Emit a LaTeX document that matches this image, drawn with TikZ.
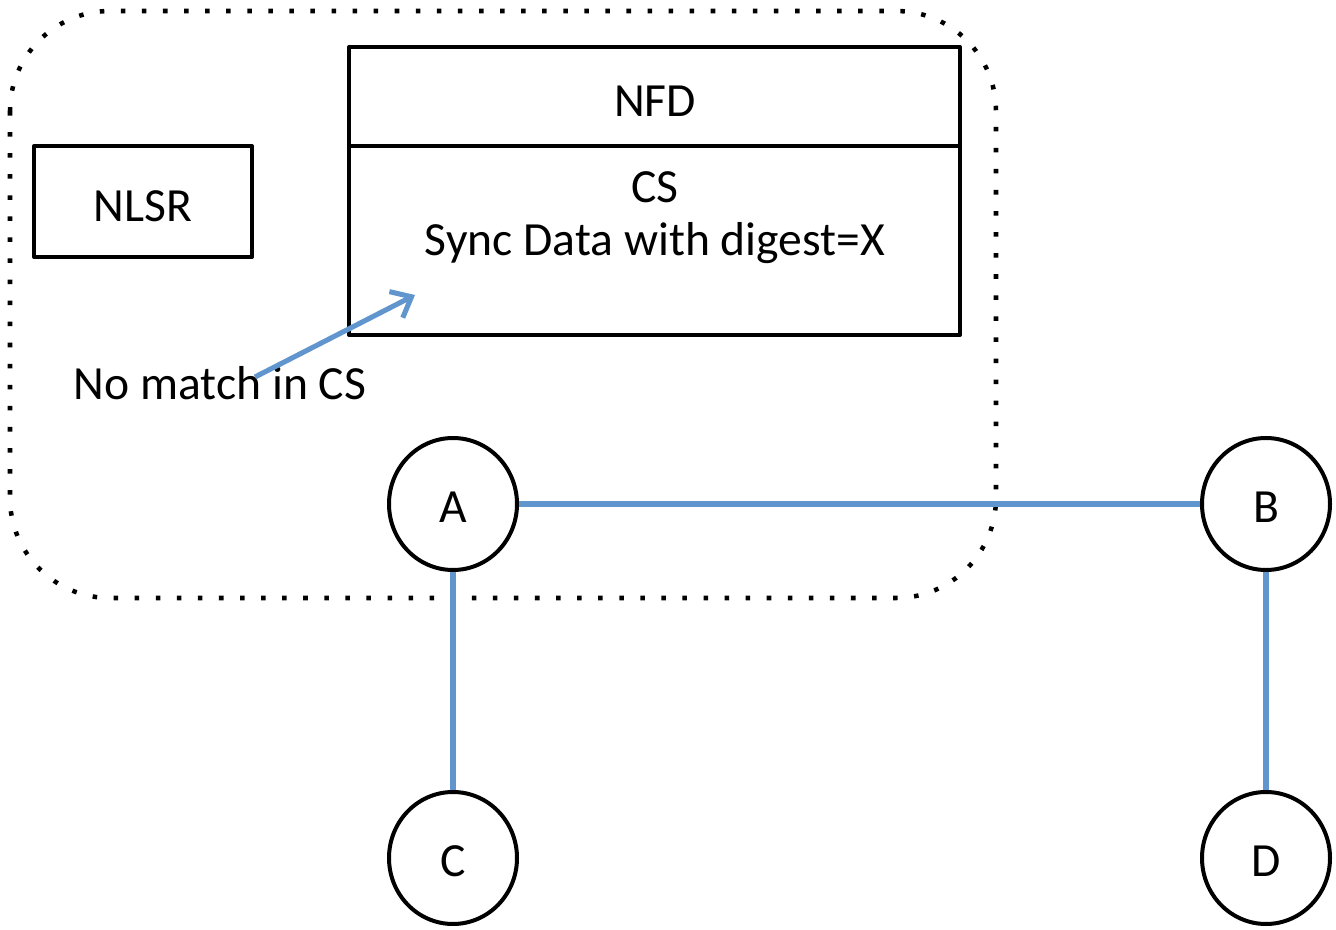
\documentclass[tikz,border=0pt]{standalone}
\usepackage{fontspec}
\setmainfont{Carlito}
\usetikzlibrary{arrows.meta,shapes.geometric}
\definecolor{linkblue}{RGB}{96,150,205}
\begin{document}
\begin{tikzpicture}[x=0.75pt,y=-0.75pt,
  every node/.style={font=\fontsize{35.7}{43}\selectfont},
  box/.style={draw=black,line width=3pt,line join=round},
  host/.style={draw=black,ellipse,line width=3pt,minimum width=96pt,minimum height=99pt,inner sep=0pt,text height=28pt,text depth=0pt},
  link/.style={draw=linkblue,line width=3.8pt},
  region/.style={draw=black,line width=3.4pt,dash pattern=on 3.4pt off 12.4pt,rounded corners=75pt}]
\useasboundingbox (0,0) rectangle (1336,930);
% dotted node region
\draw[region] (10,11) rectangle (996,598);
% boxes
\draw[box] (34,146) rectangle (252,257);
\node (nlsr) at (143,206) {NLSR};
\draw[box] (349,47) rectangle (960,335);
\draw[box] (349,146) -- (960,146);
\node (nfd) at (655,101) {NFD};
\node (cs) at (655,187) {CS};
\node (sync) at (655,243) {Sync Data with digest=X};
\node (nomatch) at (220,383) {No match in CS};
\coordinate (tail) at (255,377);
\coordinate (head) at (415,295);
\draw[link,-{Straight Barb[length=13pt,width=22pt,line width=3.8pt]}] (tail) -- (head);
% hosts
\node[host] (A) at (453,504) {A};
\node[host] (B) at (1266,504) {B};
\node[host] (C) at (453,858) {C};
\node[host] (D) at (1266,858) {D};
\draw[link] (A.east) -- (B.west);
\draw[link] (A.south) -- (C.north);
\draw[link] (B.south) -- (D.north);
\end{tikzpicture}
\end{document}
